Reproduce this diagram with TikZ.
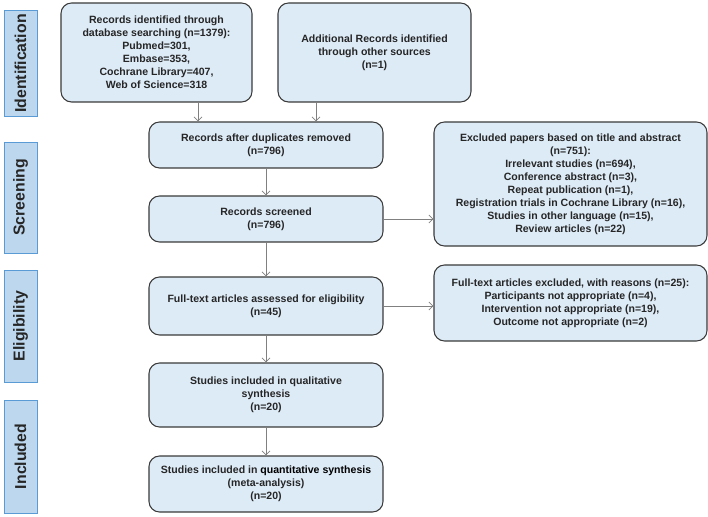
\documentclass[tikz,border=0pt]{standalone}
\usepackage{fontspec}
\setmainfont{Liberation Sans}
\usepackage{tikz}
\usetikzlibrary{arrows.meta}
\usetikzlibrary{shapes,positioning}

\definecolor{boxfill}{HTML}{DDEBF7}
\definecolor{boxline}{HTML}{3A3A3A}
\definecolor{sidefill}{HTML}{BDD7EE}
\definecolor{sideline}{HTML}{5B9BD5}
\definecolor{arrline}{HTML}{808080}

\tikzset{>={Straight Barb[length=3.5pt,width=7pt]},
  box/.style={draw=boxline,fill=boxfill,line width=0.9pt,rounded corners=9pt,
    align=center,inner sep=2pt,text=black!85,
    font=\fontsize{9}{11.1}\selectfont\bfseries},
  sidebox/.style={draw=sideline,fill=sidefill,line width=0.8pt,rotate=90,
    minimum height=0.99cm,text=black!85,
    font=\fontsize{13.5}{15}\selectfont\bfseries},
  arr/.style={->,draw=arrline,line width=0.6pt}}

\begin{document}
\begin{tikzpicture}[x=0.03cm,y=-0.03cm]

  \useasboundingbox (0,0) rectangle (708,517);

  % phases
  \node [sidebox,minimum width=3.09cm] (ident) at (20.5,63.5) {Identification};
  \node [sidebox,minimum width=3.33cm] (screen) at (20.5,197.5) {Screening};
  \node [sidebox,minimum width=3.36cm] (elig) at (20.5,326) {Eligibility};
  \node [sidebox,minimum width=3.39cm] (incl) at (20.5,456.5) {Included};

  % main column
  \node [box,minimum width=5.73cm,minimum height=2.97cm] (db) at (156.5,52.5)
    {Records identified through\\database searching (n=1379):\\Pubmed=301,\\Embase=353,\\Cochrane Library=407,\\Web of Science=318};
  \node [box,minimum width=5.79cm,minimum height=2.97cm] (other) at (374.5,52.5)
    {Additional Records identified\\through other sources\\(n=1)};

  \node [box,minimum width=7.02cm,minimum height=1.38cm] (dup) at (266,145)
    {Records after duplicates removed\\(n=796)};
  \node [box,minimum width=7.02cm,minimum height=1.38cm] (scr) at (266,219)
    {Records screened\\(n=796)};
  \node [box,minimum width=7.02cm,minimum height=1.74cm] (full) at (266,306)
    {Full-text articles assessed for eligibility\\(n=45)};
  \node [box,minimum width=7.02cm,minimum height=1.92cm] (qual) at (266,395)
    {Studies included in qualitative\\synthesis\\(n=20)};
  \node [box,minimum width=7.02cm,minimum height=1.68cm] (quant) at (266,484)
    {Studies included in {\color{black}quantitative synthesis}\\(meta-analysis)\\(n=20)};

  % exclusions
  \node [box,minimum width=8.19cm,minimum height=3.72cm] (excl1) at (570.5,184)
    {Excluded papers based on title and abstract\\(n=751):\\Irrelevant studies (n=694),\\Conference abstract (n=3),\\Repeat publication (n=1),\\Registration trials in Cochrane Library (n=16),\\Studies in other language (n=15),\\Review articles (n=22)};
  \node [box,minimum width=8.19cm,minimum height=2.28cm] (excl2) at (570.5,303)
    {Full-text articles excluded, with reasons (n=25):\\Participants not appropriate (n=4),\\Intervention not appropriate (n=19),\\Outcome not appropriate (n=2)};

  \coordinate (dbdrop) at (198,0);
  \coordinate (otdrop) at (316,0);

  \draw [arr] (db.south -| dbdrop) -- (dup.north -| dbdrop);
  \draw [arr] (other.south -| otdrop) -- (dup.north -| otdrop);
  \draw [arr] (dup) -- (scr);
  \draw [arr] (scr) -- (full);
  \draw [arr] (full) -- (qual);
  \draw [arr] (qual) -- (quant);

  \draw [arr] (scr.east) -- (scr.east -| excl1.west);
  \draw [arr] (full.east) -- (full.east -| excl2.west);

\end{tikzpicture}
\end{document}
